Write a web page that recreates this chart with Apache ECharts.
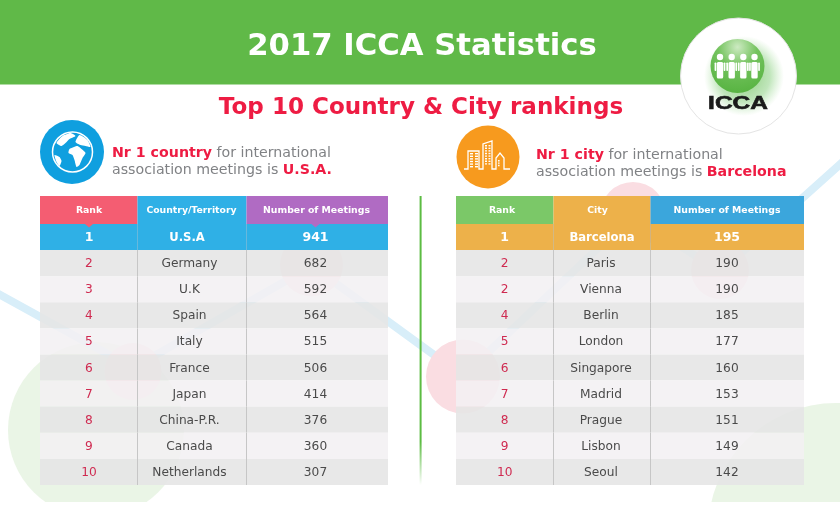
<!DOCTYPE html>
<html><head><meta charset="utf-8">
<style>html,body{margin:0;padding:0;background:#fff}#c{width:840px;height:525px}</style>
<script src="https://cdn.jsdelivr.net/npm/echarts@6/dist/echarts.min.js"></script>
</head><body><div id="c"></div>
<script>
// ---- data ----
const countryHeaders = ['Rank', 'Country/Territory', 'Number of Meetings'];
const countryRanks = [1, 2, 3, 4, 5, 6, 7, 8, 9, 10];
const countryNames = ['U.S.A', 'Germany', 'U.K', 'Spain', 'Italy', 'France', 'Japan', 'China-P.R.', 'Canada', 'Netherlands'];
const countryMeetings = [941, 682, 592, 564, 515, 506, 414, 376, 360, 307];
const cityHeaders = ['Rank', 'City', 'Number of Meetings'];
const cityRanks = [1, 2, 2, 4, 5, 6, 7, 8, 9, 10];
const cityNames = ['Barcelona', 'Paris', 'Vienna', 'Berlin', 'London', 'Singapore', 'Madrid', 'Prague', 'Lisbon', 'Seoul'];
const cityMeetings = [195, 190, 190, 185, 177, 160, 153, 151, 149, 142];
const titleText = '2017 ICCA Statistics';
const subtitleText = 'Top 10 Country & City rankings';

// ---- layout & style ----
const FONT = '"DejaVu Sans", Verdana, sans-serif';
const RED = '#ee1c43', GREY = '#808285';
const TABLE_W = 348, ROW_H = 26.1, GRID_TOP = 224 - ROW_H, GRID_H = ROW_H * 11;
const tables = [
  { left: 40, edges: [0, 97.5, 206.5, 348], centers: [49, 149.5, 275.5], headerCenters: [49, 151.5, 276.5], firstNameCenter: 147,
    headFill: ['#f45d72', '#2fb0e6', '#b06bc3'], firstFill: '#2fb0e6', notch: [true, false, true],
    headers: countryHeaders, ranks: countryRanks, names: countryNames, meetings: countryMeetings },
  { left: 456, edges: [0, 97.5, 194.5, 348], centers: [48.7, 145, 271], headerCenters: [46, 141.5, 271], firstNameCenter: 146,
    headFill: ['#7bc868', '#edb14a', '#3ba6dc'], firstFill: '#edb14a', notch: [false, false, false],
    headers: cityHeaders, ranks: cityRanks, names: cityNames, meetings: cityMeetings }
];

function buildCells(t) {
  const cells = [];
  t.headers.forEach((h, c) => cells.push({ value: [c, 0], text: h }));
  t.ranks.forEach((r, i) => {
    cells.push({ value: [0, i + 1], text: String(r) });
    cells.push({ value: [1, i + 1], text: t.names[i] });
    cells.push({ value: [2, i + 1], text: String(t.meetings[i]) });
  });
  return cells;
}

function makeRender(t) {
  return function (params, api) {
    const c = api.value(0), r = api.value(1);
    const text = buildCells(t)[params.dataIndex].text;
    const h = api.size([0, 1])[1];
    const p0 = api.coord([t.edges[c], r]);
    const p1 = api.coord([t.edges[c + 1], r]);
    let top = p0[1] - h / 2, height = h;
    let fill, color, font;
    if (r === 0) {
      top -= 2; height += 2;
      fill = t.headFill[c]; color = '#fff'; font = 'bold 9.3px ' + FONT;
    } else if (r === 1) {
      fill = t.firstFill; color = '#fff'; font = 'bold ' + (c === 1 ? 11.6 : 12.5) + 'px ' + FONT;
    } else {
      fill = r % 2 === 0 ? 'rgba(230,230,230,0.9)' : 'rgba(242,240,242,0.88)';
      color = c === 0 ? '#cf2a50' : '#4a4a4a'; font = '12.2px ' + FONT;
    }
    let textX = (r === 0 ? t.headerCenters : t.centers)[c];
    if (r === 1 && c === 1) textX = t.firstNameCenter;
    const cx = api.coord([textX, r])[0];
    const children = [{ type: 'rect', shape: { x: p0[0], y: top, width: p1[0] - p0[0], height: height }, style: { fill: fill } }];
    if (r > 0 && c > 0) {
      children.push({ type: 'rect', shape: { x: p0[0] - 0.5, y: top, width: 1, height: height },
        style: { fill: r === 1 ? 'rgba(120,150,170,0.25)' : '#c6c6c6' } });
    }
    if (r === 0 && t.notch[c]) {
      const nx = api.coord([t.centers[c], r])[0], b = top + height;
      children.push({ type: 'polygon', z2: 5, shape: { points: [[nx - 4, b], [nx + 4, b], [nx, b + 3.5]] }, style: { fill: fill } });
    }
    children.push({ type: 'text', z2: 10, style: { text: text, x: cx, y: p0[1] + (r === 0 ? 0 : 0.8), align: 'center', verticalAlign: 'middle', fill: color, font: font } });
    return { type: 'group', children: children };
  };
}

// ---- decoration ----
const g = [];
g.push({ type: 'circle', z: 0, shape: { cx: 96, cy: 430, r: 88 }, style: { fill: '#eaf5e6' } });
g.push({ type: 'circle', z: 0, shape: { cx: 836, cy: 531, r: 128 }, style: { fill: '#eaf5e6' } });
g.push({ type: 'rect', z: 0, shape: { x: 0, y: 502, width: 840, height: 23 }, style: { fill: '#fff' } });
const lineStyle = { stroke: '#d8eef9', lineWidth: 8, fill: null, lineJoin: 'miter' };
g.push({ type: 'polyline', z: 0, shape: { points: [[-5, 292], [133, 368], [312, 266], [463, 376], [633, 215], [720, 272], [845, 160]] }, style: lineStyle });
[[133, 371.5, 28.5], [311.5, 265, 31.5], [463, 376.5, 37], [633, 215, 33], [720, 270, 29]].forEach(a => {
  g.push({ type: 'circle', z: 0, shape: { cx: a[0], cy: a[1], r: a[2] }, style: { fill: '#fadde2' } });
});
g.push({ type: 'rect', z: 1, shape: { x: 0, y: 0, width: 840, height: 84.5 }, style: { fill: '#60b948' } });
g.push({ type: 'rect', z: 1, shape: { x: 419.6, y: 196, width: 2, height: 289 }, style: { fill: { type: 'linear', x: 0, y: 0, x2: 0, y2: 1, colorStops: [{ offset: 0, color: '#5cbc42' }, { offset: 0.85, color: '#5cbc42' }, { offset: 1, color: 'rgba(92,188,66,0)' }] } } });

// logo
g.push({ type: 'circle', z: 100, shape: { cx: 738.5, cy: 76, r: 58 }, style: { fill: '#fff', stroke: '#e4e4e4', lineWidth: 1 } });
g.push({ type: 'circle', z: 101, shape: { cx: 744, cy: 76, r: 40 }, style: { fill: { type: 'radial', x: 0.5, y: 0.5, r: 0.5, colorStops: [{ offset: 0, color: 'rgba(96,185,72,0.75)' }, { offset: 0.65, color: 'rgba(130,205,120,0.5)' }, { offset: 1, color: 'rgba(160,220,150,0)' }] } } });
g.push({ type: 'circle', z: 102, shape: { cx: 737.5, cy: 66, r: 27 }, style: { fill: { type: 'radial', x: 0.5, y: 0.15, r: 0.9, colorStops: [{ offset: 0, color: '#cdeac2' }, { offset: 0.4, color: '#74c35e' }, { offset: 1, color: '#55b23f' }] } } });
[720, 731.7, 743.3, 754.5].forEach(x => {
  g.push({ type: 'circle', z: 103, shape: { cx: x, cy: 57, r: 3.2 }, style: { fill: '#fff' } });
  g.push({ type: 'rect', z: 103, shape: { x: x - 3.2, y: 62, width: 6.4, height: 16.5, r: 1.5 }, style: { fill: '#fff' } });
  g.push({ type: 'rect', z: 103, shape: { x: x - 5.4, y: 62.5, width: 1.7, height: 8.5, r: 0.7 }, style: { fill: '#fff' } });
  g.push({ type: 'rect', z: 103, shape: { x: x + 3.7, y: 62.5, width: 1.7, height: 8.5, r: 0.7 }, style: { fill: '#fff' } });
});
g.push({ type: 'text', z: 104, x: 738, y: 104.5, scaleX: 1.36, style: { text: 'ICCA', align: 'center', verticalAlign: 'middle', fill: '#1a1a1a', stroke: '#1a1a1a', lineWidth: 0.6, font: 'bold 18px "Liberation Sans", Arial, sans-serif' } });

// globe icon
g.push({ type: 'circle', z: 3, shape: { cx: 72, cy: 152, r: 32 }, style: { fill: '#0f9fdf' } });
g.push({ type: 'circle', z: 3, shape: { cx: 72.5, cy: 152, r: 20 }, style: { fill: '#0f9fdf', stroke: '#fff', lineWidth: 1.5 } });
[
  [[-16, -9], [-10, -16], [-2, -19], [3, -16], [-3, -13], [-7, -9], [-11, -6]],
  [[3, -10], [7, -17], [15, -12], [18, -5], [13, -6], [8, -7]],
  [[-3, -3], [5, -6], [9, -3], [13, 1], [10, 6], [7, 13], [4, 15], [2, 8], [0, 3], [-4, 1]],
  [[-18, 3], [-13, 5], [-11, 9], [-13, 14], [-16, 10]]
].forEach(p => {
  g.push({ type: 'polygon', z: 3, x: 72.5, y: 152, shape: { points: p, smooth: 0.2 }, style: { fill: '#fff' } });
});

// city icon
g.push({ type: 'circle', z: 3, shape: { cx: 488, cy: 157, r: 31.5 }, style: { fill: '#f79a1e' } });
const iconLine = { stroke: '#fff', lineWidth: 1.3, fill: null };
g.push({ type: 'polyline', z: 3, shape: { points: [[464, 169], [468, 169], [468, 151], [479, 151], [479, 169], [483, 169], [483, 144], [492, 141], [492, 169], [496, 169], [496, 158], [500, 153], [504, 158], [504, 169], [510, 169]] }, style: iconLine });
[[470, 153, 3, 6], [475, 153, 3, 6], [485, 145, 2, 8], [488.5, 145, 2, 8], [498, 160, 1.6, 3]].forEach(a => {
  for (let i = 0; i < a[3]; i++) {
    g.push({ type: 'rect', z: 3, shape: { x: a[0], y: a[1] + i * (a[3] > 5 ? 2.6 : 2.4), width: a[2], height: 1.4 }, style: { fill: '#fff' } });
  }
});

// callouts
const calloutRich = {
  r: { fill: RED, color: RED, fontFamily: FONT, fontWeight: 'bold', fontSize: 14.2 },
  g: { fill: GREY, color: GREY, fontFamily: FONT, fontSize: 14.2 }
};
function callout(x, y, text) {
  g.push({ type: 'text', z: 3, x: x, y: y, style: { text: text, rich: calloutRich, verticalAlign: 'middle', align: 'left' } });
}
callout(112, 153.8, '{r|Nr 1 country}{g| for international}');
callout(112, 170.6, '{g|association meetings is }{r|U.S.A.}');
callout(536, 155.8, '{r|Nr 1 city}{g| for international}');
callout(536, 172.6, '{g|association meetings is }{r|Barcelona}');

const grids = tables.map(t => ({ left: t.left, top: GRID_TOP, width: TABLE_W, height: GRID_H, show: false }));
const rowCats = ['h'].concat(countryRanks.map((_, i) => 'r' + i));

const option = {
  animation: false,
  backgroundColor: '#fff',
  title: [
    { text: titleText, left: 417, top: 27, textAlign: 'center', textStyle: { color: '#fff', fontFamily: FONT, fontWeight: 'bold', fontSize: 30.7 } },
    { text: subtitleText, left: 416, top: 92, textAlign: 'center', textStyle: { color: RED, fontFamily: FONT, fontWeight: 'bold', fontSize: 23.05 } }
  ],
  grid: grids,
  xAxis: tables.map((t, i) => ({ type: 'value', gridIndex: i, min: 0, max: TABLE_W, show: false })),
  yAxis: tables.map((t, i) => ({ type: 'category', gridIndex: i, data: rowCats, inverse: true, show: false })),
  graphic: g,
  series: tables.map((t, i) => ({
    type: 'custom', xAxisIndex: i, yAxisIndex: i, silent: true, clip: false,
    renderItem: makeRender(t), data: buildCells(t), encode: { x: 0, y: 1 }, z: 5
  }))
};
echarts.init(document.getElementById('c'), null, { renderer: 'canvas' }).setOption(option);
</script>
</body></html>
